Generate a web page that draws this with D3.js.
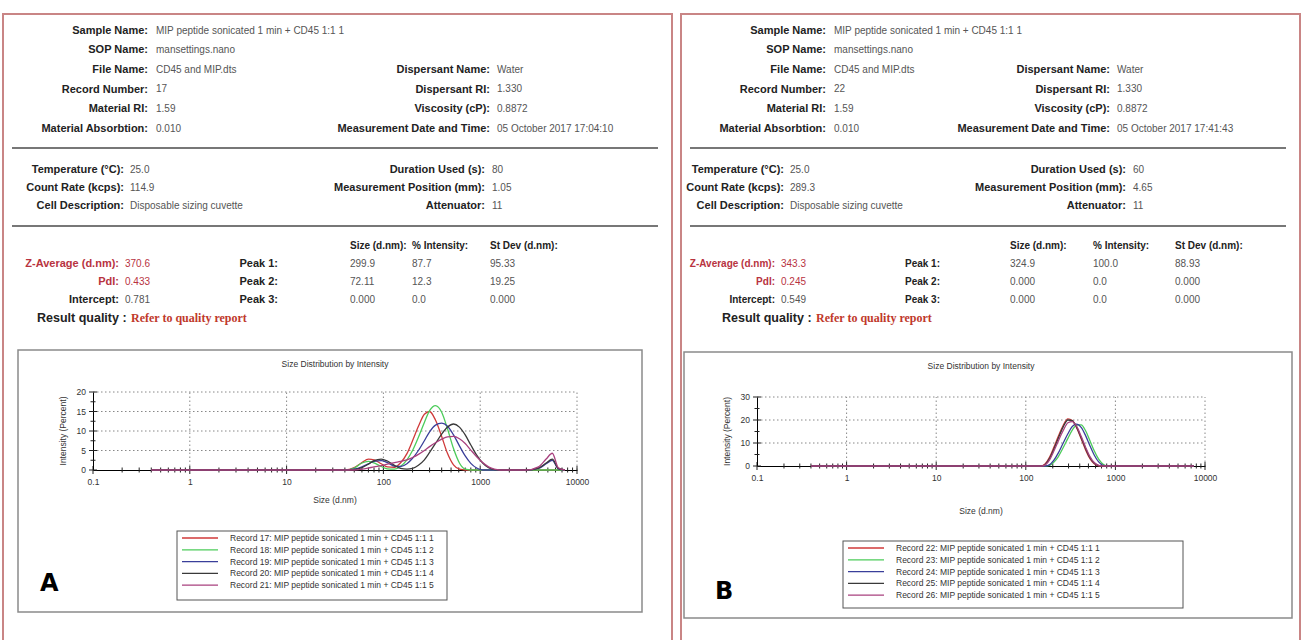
<!DOCTYPE html>
<html>
<head>
<meta charset="utf-8">
<script src="https://cdn.jsdelivr.net/npm/d3@7"></script>
<style>
  body { margin: 0; background: #fff; }
  svg { display: block; }
  .lbl { font-family: "Liberation Sans Narrow", "Liberation Sans", Arial, sans-serif; font-weight: bold; font-size: 11px; fill: #222; }
  .val { font-family: "Liberation Sans", Arial, sans-serif; font-size: 10px; fill: #555; }
  .small { font-family: "Liberation Sans", Arial, sans-serif; font-size: 8.5px; fill: #333; }
</style>
</head>
<body>
<div id="main"></div>
<script>

// ---- data ----
const headerLabels = ['Sample Name:', 'SOP Name:', 'File Name:', 'Record Number:', 'Material RI:', 'Material Absorbtion:'];
const headerValuesA = ['MIP peptide sonicated  1 min + CD45 1:1 1', 'mansettings.nano', 'CD45 and MIP.dts', '17', '1.59', '0.010'];
const headerValuesB = ['MIP peptide sonicated  1 min + CD45 1:1 1', 'mansettings.nano', 'CD45 and MIP.dts', '22', '1.59', '0.010'];

const dispLabels = ['Dispersant Name:', 'Dispersant RI:', 'Viscosity (cP):', 'Measurement Date and Time:'];
const dispValuesA = ['Water', '1.330', '0.8872', '05 October 2017 17:04:10'];
const dispValuesB = ['Water', '1.330', '0.8872', '05 October 2017 17:41:43'];

const condLabels = ['Temperature (°C):', 'Count Rate (kcps):', 'Cell Description:'];
const condValuesA = ['25.0', '114.9', 'Disposable sizing cuvette'];
const condValuesB = ['25.0', '289.3', 'Disposable sizing cuvette'];

const condLabels2 = ['Duration Used (s):', 'Measurement Position (mm):', 'Attenuator:'];
const condValues2A = ['80', '1.05', '11'];
const condValues2B = ['60', '4.65', '11'];

const resultLabels = ['Z-Average (d.nm):', 'PdI:', 'Intercept:'];
const resultValuesA = ['370.6', '0.433', '0.781'];
const resultValuesB = ['343.3', '0.245', '0.549'];

const peakLabels = ['Peak 1:', 'Peak 2:', 'Peak 3:'];
const peakColumns = ['Size (d.nm):', '% Intensity:', 'St Dev (d.nm):'];
const peaksA = [['299.9', '87.7', '95.33'], ['72.11', '12.3', '19.25'], ['0.000', '0.0', '0.000']];
const peaksB = [['324.9', '100.0', '88.93'], ['0.000', '0.0', '0.000'], ['0.000', '0.0', '0.000']];

const recordsA = [
  'Record 17: MIP peptide sonicated  1 min + CD45 1:1 1',
  'Record 18: MIP peptide sonicated  1 min + CD45 1:1 2',
  'Record 19: MIP peptide sonicated  1 min + CD45 1:1 3',
  'Record 20: MIP peptide sonicated  1 min + CD45 1:1 4',
  'Record 21: MIP peptide sonicated  1 min + CD45 1:1 5'
];
const recordsB = [
  'Record 22: MIP peptide sonicated  1 min + CD45 1:1 1',
  'Record 23: MIP peptide sonicated  1 min + CD45 1:1 2',
  'Record 24: MIP peptide sonicated  1 min + CD45 1:1 3',
  'Record 25: MIP peptide sonicated  1 min + CD45 1:1 4',
  'Record 26: MIP peptide sonicated  1 min + CD45 1:1 5'
];
const recordColors = ['#d03a3a', '#4ccc5a', '#3a3f9a', '#3a3a3a', '#a8407e'];

// size bins (d.nm) and intensity (%)
const sizesA = [0.4, 40, 50, 60, 70, 80, 95, 110, 130, 150, 175, 200, 230, 265, 300, 345, 400, 460, 530, 610, 700, 800, 920, 1060, 1220, 1400, 1600, 3000, 4000, 4800, 5560, 6400, 7500];
const rec17 = [0, 0, 0.6, 1.9, 2.8, 2.6, 1.6, 0.8, 0.7, 1.8, 4.2, 7.5, 11.2, 14.3, 15.0, 12.8, 8.6, 4.2, 1.3, 0.2, 0, 0, 0, 0, 0, 0, 0, 0, 0, 0, 0, 0, 0];
const rec18 = [0, 0, 0.5, 1.8, 2.2, 1.8, 0.9, 0.3, 0.2, 0.9, 2.6, 5.0, 8.4, 12.2, 15.2, 16.5, 14.8, 10.5, 5.5, 1.8, 0.2, 0, 0, 0, 0, 0, 0, 0, 0, 0, 0, 0, 0];
const rec19 = [0, 0, 0.2, 0.8, 1.6, 2.2, 2.4, 1.9, 1.0, 0.9, 1.6, 3.0, 5.0, 7.5, 9.8, 11.5, 12.0, 11.2, 9.0, 6.2, 3.6, 1.7, 0.5, 0, 0, 0, 0, 0, 0.4, 1.6, 2.5, 0.3, 0];
const rec20 = [0, 0, 0.1, 0.6, 1.5, 2.4, 2.8, 2.3, 1.2, 0.4, 0.2, 0.4, 1.2, 2.6, 4.5, 6.8, 9.2, 11.0, 11.8, 11.0, 9.0, 6.4, 3.8, 1.8, 0.6, 0.1, 0, 0, 0.5, 1.8, 2.8, 0.4, 0];
const rec21 = [0, 0, 0, 0.2, 0.5, 0.8, 1.1, 1.5, 1.9, 2.2, 2.6, 3.2, 4.0, 5.0, 6.0, 7.0, 7.9, 8.5, 8.6, 8.0, 6.8, 5.1, 3.4, 1.9, 0.8, 0.2, 0, 0, 0.8, 2.8, 4.3, 0.6, 0];

const sizesB = [0.4, 150, 165, 185, 205, 230, 260, 295, 330, 370, 415, 465, 520, 580, 650, 730, 820, 7500];
const rec22 = [0, 0, 1.0, 4.0, 8.0, 12.8, 17.5, 20.5, 19.8, 16.5, 11.8, 7.0, 3.2, 1.0, 0.1, 0, 0, 0];
const rec23 = [0, 0, 0, 0.3, 1.6, 4.0, 7.8, 12.0, 15.6, 17.8, 17.9, 15.3, 11.0, 6.6, 3.0, 0.8, 0, 0];
const rec24 = [0, 0, 0, 0.6, 2.4, 5.6, 9.8, 14.0, 17.2, 18.2, 16.8, 13.2, 8.8, 4.8, 1.8, 0.3, 0, 0];
const rec25 = [0, 0, 0.7, 3.4, 7.2, 12.0, 16.8, 20.0, 19.7, 16.8, 12.3, 7.6, 3.6, 1.2, 0.2, 0, 0, 0];
const rec26 = [0, 0, 0.5, 2.8, 6.4, 10.8, 15.2, 18.8, 19.3, 17.2, 12.9, 8.2, 4.1, 1.5, 0.3, 0, 0, 0];

const xMajor = [0.1, 1, 10, 100, 1000, 10000];
const yTicksA = [0, 5, 10, 15, 20];
const yTicksB = [0, 10, 20, 30];


const w = 1302;
const h = 640;

const svg = d3.select('#main').append('svg').attr('width', w).attr('height', h);


function drawPanel(p) {
    const g = svg.append('g').attr('transform', `translate(${p.ox},0)`);

    // outer frame
    g.append('rect').attr('x', 0).attr('y', 14).attr('width', p.fw).attr('height', 640)
        .attr('fill', 'none').attr('stroke', '#c98585').attr('stroke-width', 2);

    // header
    headerLabels.forEach((t, i) => {
        const y = 30 + i * 19.6;
        g.append('text').attr('class', 'lbl').attr('x', 145).attr('y', y).attr('dy', '.35em').attr('text-anchor', 'end').text(t);
        g.append('text').attr('class', 'val').attr('x', 153).attr('y', y).attr('dy', '.35em').text(p.header[i]);
    });
    dispLabels.forEach((t, i) => {
        const y = 30 + (i + 2) * 19.6;
        g.append('text').attr('class', 'lbl').attr('x', p.dispX).attr('y', y).attr('dy', '.35em').attr('text-anchor', 'end').text(t);
        g.append('text').attr('class', 'val').attr('x', p.dispX + 7).attr('y', y).attr('dy', '.35em').text(p.disp[i]);
    });

    g.append('line').attr('x1', 9).attr('x2', p.fw - 14).attr('y1', 148).attr('y2', 148).attr('stroke', '#777').attr('stroke-width', 2);

    // conditions
    condLabels.forEach((t, i) => {
        const y = 169 + i * 18;
        g.append('text').attr('class', 'lbl').attr('x', p.condX).attr('y', y).attr('dy', '.35em').attr('text-anchor', 'end').text(t);
        g.append('text').attr('class', 'val').attr('x', p.condX + 6).attr('y', y).attr('dy', '.35em').text(p.cond[i]);
        g.append('text').attr('class', 'lbl').attr('x', p.cond2X).attr('y', y).attr('dy', '.35em').attr('text-anchor', 'end').text(condLabels2[i]);
        g.append('text').attr('class', 'val').attr('x', p.cond2X + 7).attr('y', y).attr('dy', '.35em').text(p.cond2[i]);
    });

    g.append('line').attr('x1', 9).attr('x2', p.fw - 14).attr('y1', 226).attr('y2', 226).attr('stroke', '#777').attr('stroke-width', 2);

    // results table
    peakColumns.forEach((t, j) => {
        g.append('text').attr('class', 'lbl').attr('x', p.colX[j]).attr('y', 245).attr('dy', '.35em').style('font-size', '10px').text(t);
    });
    resultLabels.forEach((t, i) => {
        const y = 263 + i * 18;
        const red = i < 2;
        g.append('text').attr('class', 'lbl').attr('x', p.resX).attr('y', y).attr('dy', '.35em').attr('text-anchor', 'end')
            .style('font-size', p.tf + 'px').style('fill', red ? '#b8333f' : '#222').text(t);
        g.append('text').attr('class', 'val').attr('x', p.resX + 6).attr('y', y).attr('dy', '.35em')
            .style('fill', red ? '#b8333f' : '#555').text(p.res[i]);
        g.append('text').attr('class', 'lbl').attr('x', p.peakX).attr('y', y).attr('dy', '.35em').attr('text-anchor', 'end')
            .style('font-size', p.tf + 'px').text(peakLabels[i]);
        p.peaks[i].forEach((v, j) => {
            g.append('text').attr('class', 'val').attr('x', p.colX[j]).attr('y', y).attr('dy', '.35em').text(v);
        });
    });
    g.append('text').attr('class', 'lbl').attr('x', p.rqX).attr('y', 318).attr('dy', '.35em')
        .style('font-size', '12.5px').style('font-family', '"Liberation Sans", Arial, sans-serif').text('Result quality :');
    g.append('text').attr('class', 'lbl').attr('x', p.rqX + 94).attr('y', 318).attr('dy', '.35em')
        .style('font-size', '12px').style('fill', '#c0392b').style('font-family', '"Liberation Serif", "Times New Roman", serif').text('Refer to quality report');

    // chart box
    g.append('rect').attr('x', p.box[0]).attr('y', p.box[1]).attr('width', p.box[2]).attr('height', p.box[3])
        .attr('fill', '#fff').attr('stroke', '#8a8a8a').attr('stroke-width', 1.5);

    g.append('text').attr('class', 'small').attr('x', (p.x0 + p.x1) / 2).attr('y', p.box[1] + 17).attr('text-anchor', 'middle')
        .text('Size Distribution by Intensity');

    const xScale = d3.scaleLog().domain([0.1, 10000]).range([p.x0, p.x1]);
    const yScale = d3.scaleLinear().domain([0, p.yMax]).range([p.y0, p.y1]);

    // dotted grid
    const grid = g.append('g');
    grid.selectAll('.vg').data(xMajor.slice(1)).enter().append('line')
        .attr('x1', d => xScale(d)).attr('x2', d => xScale(d)).attr('y1', p.y0).attr('y2', p.y1)
        .attr('stroke', '#888').attr('stroke-dasharray', '1.5,2.5');
    grid.selectAll('.hg').data(p.yTicks.slice(1)).enter().append('line')
        .attr('x1', p.x0).attr('x2', p.x1).attr('y1', d => yScale(d)).attr('y2', d => yScale(d))
        .attr('stroke', '#888').attr('stroke-dasharray', '1.5,2.5');

    // axes
    const minorX = [];
    xMajor.slice(0, -1).forEach(d => { for (let k = 2; k < 10; k++) minorX.push(d * k); });
    const xAxis = d3.axisBottom(xScale).tickValues(xMajor).tickFormat(d => d).tickSize(0).tickPadding(9);
    const xg = g.append('g').attr('transform', `translate(0,${p.y0})`).call(xAxis);
    xg.select('.domain').attr('stroke', '#000');
    xg.selectAll('text').style('font-family', '"Liberation Sans", Arial, sans-serif').style('font-size', '8.5px').style('fill', '#333');
    g.append('g').selectAll('line').data(xMajor.concat(minorX)).enter().append('line')
        .attr('x1', d => xScale(d)).attr('x2', d => xScale(d))
        .attr('y1', d => p.y0 - (xMajor.includes(d) ? 4 : 2.5)).attr('y2', d => p.y0 + (xMajor.includes(d) ? 4 : 2.5))
        .attr('stroke', '#222');

    const yAxis = d3.axisLeft(yScale).tickValues(p.yTicks).tickSize(0).tickPadding(7);
    const yg = g.append('g').attr('transform', `translate(${p.x0},0)`).call(yAxis);
    yg.select('.domain').attr('stroke', '#000');
    yg.selectAll('text').style('font-family', '"Liberation Sans", Arial, sans-serif').style('font-size', '8.5px').style('fill', '#333');
    g.append('g').selectAll('line').data(p.yTicks.concat(p.yMinor)).enter().append('line')
        .attr('x1', d => p.x0 - (p.yTicks.includes(d) ? 4 : 2.5)).attr('x2', d => p.x0 + (p.yTicks.includes(d) ? 4 : 2.5))
        .attr('y1', d => yScale(d)).attr('y2', d => yScale(d)).attr('stroke', '#222');

    g.append('text').attr('class', 'small').attr('transform', `translate(${p.x0 - 27},${(p.y0 + p.y1) / 2}) rotate(-90)`)
        .attr('text-anchor', 'middle').text('Intensity (Percent)');
    g.append('text').attr('class', 'small').attr('x', (p.x0 + p.x1) / 2).attr('y', p.xTitleY).attr('text-anchor', 'middle')
        .text('Size (d.nm)');

    // curves
    const line = d3.line().x(d => xScale(d[0])).y(d => yScale(d[1])).curve(d3.curveMonotoneX);
    p.series.forEach((s, i) => {
        g.append('path').datum(p.sizes.map((x, k) => [x, s[k]]))
            .attr('d', line).attr('fill', 'none').attr('stroke', recordColors[i]).attr('stroke-width', 1.3);
    });

    // legend
    const lg = g.append('g').attr('transform', `translate(${p.leg[0]},${p.leg[1]})`);
    lg.append('rect').attr('width', p.leg[2]).attr('height', p.leg[3]).attr('fill', '#fff').attr('stroke', '#555');
    p.records.forEach((t, i) => {
        const y = 7 + i * 11.8;
        lg.append('line').attr('x1', 5).attr('x2', 41).attr('y1', y).attr('y2', y).attr('stroke', recordColors[i]).attr('stroke-width', 1.3);
        lg.append('text').attr('class', 'small').attr('x', 53).attr('y', y).attr('dy', '.35em').text(t);
    });

    g.append('text').attr('x', p.letter[0]).attr('y', p.letter[1])
        .style('font-family', '"DejaVu Sans", Arial, sans-serif').style('font-weight', 'bold').style('font-size', '24px')
        .style('fill', '#000').text(p.name);
}


drawPanel({
    name: 'A', ox: 3, fw: 669, tf: 11,
    header: headerValuesA, disp: dispValuesA, dispX: 487,
    cond: condValuesA, condX: 121, cond2: condValues2A, cond2X: 482,
    res: resultValuesA, resX: 116, peakX: 275, colX: [347, 409, 487], peaks: peaksA, rqX: 34,
    box: [15, 350, 624, 262],
    x0: 90, x1: 574, y0: 470, y1: 392, yMax: 20, yTicks: yTicksA, yMinor: [2.5, 7.5, 12.5, 17.5], xTitleY: 503,
    sizes: sizesA, series: [rec17, rec18, rec19, rec20, rec21], records: recordsA,
    leg: [174, 531, 270, 69], letter: [37, 591]
});

drawPanel({
    name: 'B', ox: 681, fw: 619, tf: 10,
    header: headerValuesB, disp: dispValuesB, dispX: 429,
    cond: condValuesB, condX: 103, cond2: condValues2B, cond2X: 445,
    res: resultValuesB, resX: 94, peakX: 259, colX: [329, 412, 494], peaks: peaksB, rqX: 41,
    box: [3, 352, 608, 266],
    x0: 76, x1: 524, y0: 466, y1: 397, yMax: 30, yTicks: yTicksB, yMinor: [5, 15, 25], xTitleY: 514,
    sizes: sizesB, series: [rec22, rec23, rec24, rec25, rec26], records: recordsB,
    leg: [162, 541, 340, 67], letter: [34, 599]
});

</script>
</body>
</html>
